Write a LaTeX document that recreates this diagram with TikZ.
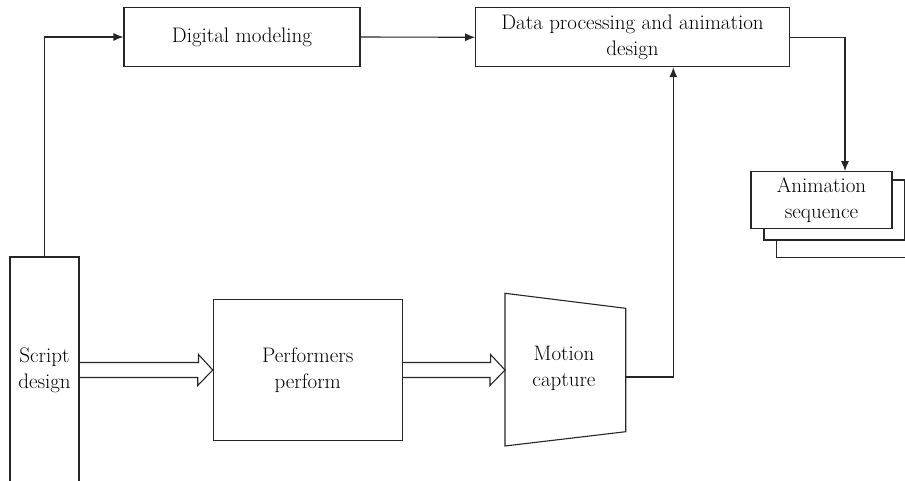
\documentclass[tikz,border=0pt]{standalone}
\usepackage{fontspec}
\usetikzlibrary{arrows.meta,calc}
\begin{document}
\begin{tikzpicture}[x=1pt,y=-1pt,
  ln/.style={line width=1.1pt,draw=black!85},
  box/.style={ln,rectangle,inner sep=0pt,align=center,fill=white},
  lbl/.style={inner sep=0pt,align=center,text=black,font=\fontsize{21}{26}\selectfont},
  arr/.style={ln,-{Latex[length=10pt,width=8pt]}},
  hollow/.style={ln,line join=miter}]
\useasboundingbox (0,0) rectangle (905,481);
% Script design (box open at the bottom)
\node[lbl,minimum width=69,minimum height=226] (script) at (44.5,370) {Script\\design};
\draw[ln] (10,490) -- (10,257) -- (79,257) -- (79,490);
% Digital modeling
\node[box,lbl,minimum width=236,minimum height=59.4] (dig) at (242,37) {Digital modeling};
% Data processing
\node[box,lbl,minimum width=313.6,minimum height=58.7] (data) at (632.5,37.3) {Data processing and animation\\design};
% Performers perform
\node[box,lbl,minimum width=189,minimum height=141.4] (perf) at (307.8,370) {Performers\\perform};
% Motion capture trapezoid
\draw[ln] (505,293.3) -- (625.7,308.3) -- (625.7,431.7) -- (505,446) -- cycle;
\node[lbl] (mc) at (564,368) {Motion\\capture};
\coordinate (mcw) at (505,370);
\coordinate (mce) at (625.7,377);
% Animation sequence stack
\draw[ln,fill=white] (776.7,196) rectangle (917,257.3);
\draw[ln,fill=white] (764,180) rectangle (904.2,240);
\node[box,lbl,minimum width=141,minimum height=57.3] (anim) at (821.5,200.3) {Animation\\sequence};
% Connectors
\draw[arr] (script.north) |- (dig.west);
\draw[arr] (dig.east) -- (data.west);
\draw[arr] (data.east) -| ([xshift=23.5]anim.north);
\draw[arr] (mce) -| ([xshift=40.8]data.south);
% Hollow arrows
\draw[hollow] ($(script.east)+(0,-7.5)$) -- ++(119.3,0) -- ++(0,-8) -- (perf.west) -- ++(-15,15.5) -- ++(0,-8) -- ($(script.east)+(0,7.5)$);
\draw[hollow] ($(perf.east)+(0,-7.5)$) -- ++(87.7,0) -- ++(0,-8) -- (mcw) -- ++(-15,15.5) -- ++(0,-8) -- ($(perf.east)+(0,7.5)$);
\end{tikzpicture}
\end{document}
